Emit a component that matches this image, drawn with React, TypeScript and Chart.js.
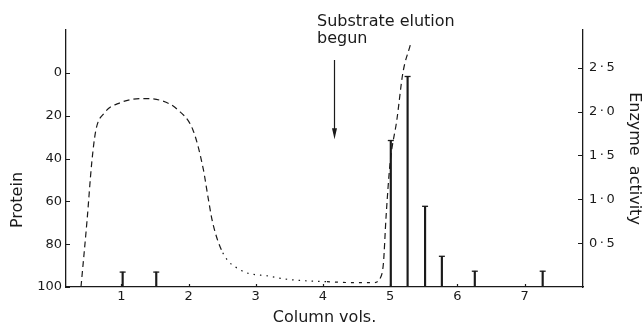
import React, { useEffect, useRef } from 'react';
import { Chart, registerables } from 'chart.js';

Chart.register(...registerables);

// Protein elution profile (left axis, reversed)
const proteinX = [0.40, 0.49, 0.56, 0.62, 0.74, 0.98, 1.32, 1.60, 1.83, 2.07, 2.22, 2.29, 2.36, 2.51, 2.77, 3.21, 3.50, 4.06, 4.50, 4.75, 4.85, 4.90, 4.94, 5.00, 5.10, 5.19, 5.30];
const proteinY = [100, 69, 42, 27, 19, 14, 12, 13, 17, 27, 45, 58, 70, 84, 92, 95, 96.5, 97.5, 98, 98, 96, 89, 67, 42, 22, 0, -13];

// Enzyme activity (right axis)
const enzymeX = [1.02, 1.52, 5.01, 5.26, 5.52, 5.77, 6.26, 7.27];
const enzymeY = [0.17, 0.17, 1.67, 2.40, 0.92, 0.35, 0.18, 0.18];

// Axis ticks
const columnTicks = [1, 2, 3, 4, 5, 6, 7];
const proteinTicks = [0, 20, 40, 60, 80, 100];
const activityTicks = [0.5, 1.0, 1.5, 2.0, 2.5];

// Annotation
const annotationLines = ['Substrate elution', 'begun'];
const arrowX = 4.17;
const arrowFrom = -6;
const arrowTo = 31;

const INK = '#1a1a1a';
const FONT = 'DejaVu Sans';

const decor = {
  id: 'decor',
  afterDraw(chart: any) {
    const { ctx, chartArea, scales } = chart;
    const x = scales.x, y = scales.y, y1 = scales.y1;
    ctx.save();
    ctx.strokeStyle = INK;
    ctx.fillStyle = INK;
    ctx.lineWidth = 1.2;
    ctx.beginPath();
    proteinTicks.forEach((v) => {
      const py = Math.round(y.getPixelForValue(v)) + 0.5;
      ctx.moveTo(chartArea.left, py);
      ctx.lineTo(chartArea.left + 4, py);
    });
    activityTicks.forEach((v) => {
      const py = Math.round(y1.getPixelForValue(v)) + 0.5;
      ctx.moveTo(chartArea.right - 5, py);
      ctx.lineTo(chartArea.right, py);
    });
    columnTicks.forEach((v) => {
      const px = Math.round(x.getPixelForValue(v)) + 0.5;
      ctx.moveTo(px, chartArea.bottom);
      ctx.lineTo(px, chartArea.bottom - 3);
    });
    ctx.stroke();

    // arrow
    const ax = Math.round(x.getPixelForValue(arrowX)) + 0.5;
    const a0 = y.getPixelForValue(arrowFrom);
    const a1 = y.getPixelForValue(arrowTo);
    ctx.beginPath();
    ctx.moveTo(ax, a0);
    ctx.lineTo(ax, a1 - 8);
    ctx.stroke();
    ctx.beginPath();
    ctx.moveTo(ax - 2.5, a1 - 11);
    ctx.lineTo(ax + 2.5, a1 - 11);
    ctx.lineTo(ax, a1);
    ctx.closePath();
    ctx.fill();

    // annotation text
    ctx.font = `16px "${FONT}"`;
    ctx.textAlign = 'left';
    ctx.textBaseline = 'alphabetic';
    ctx.fillText(annotationLines[0], 317, 26);
    ctx.fillText(annotationLines[1], 317, 43);

    // left axis title
    ctx.save();
    ctx.translate(18, 200);
    ctx.rotate(-Math.PI / 2);
    ctx.textAlign = 'center';
    ctx.textBaseline = 'middle';
    ctx.fillText('Protein', 0, 0);
    ctx.restore();

    ctx.restore();
  },
};

export default function App() {
  const ref = useRef<HTMLCanvasElement | null>(null);

  useEffect(() => {
    if (!ref.current) return;
    const tickFont = { family: FONT, size: 13 };
    const border = { display: true, color: INK, width: 1.3 };
    const chart = new Chart(ref.current, {
      type: 'bar',
      data: {
        datasets: [
          {
            type: 'line',
            label: 'Protein',
            data: proteinX.map((v, i) => ({ x: v, y: proteinY[i] })),
            yAxisID: 'y',
            xAxisID: 'x',
            borderColor: INK,
            borderWidth: 1.2,
            pointRadius: 0,
            fill: false,
            cubicInterpolationMode: 'monotone',
            segment: {
              borderDash: (c: any) => {
                const px = c.p0.parsed.x;
                if (px >= 2.4 && px < 3.6) return [1.5, 5];
                if (px >= 3.6 && px < 4.8) return [3, 5];
                return [6, 4];
              },
            },
          } as any,
          {
            type: 'bar',
            label: 'Enzyme activity',
            data: enzymeX.map((v, i) => ({ x: v, y: enzymeY[i] })),
            yAxisID: 'y1',
            xAxisID: 'x',
            backgroundColor: INK,
            barThickness: 1.5,
          } as any,
          {
            type: 'scatter',
            label: 'caps',
            data: enzymeX.map((v, i) => ({ x: v, y: enzymeY[i] })),
            yAxisID: 'y1',
            xAxisID: 'x',
            pointStyle: 'line',
            pointRadius: 3,
            borderColor: INK,
            borderWidth: 1.3,
            showLine: false,
          } as any,
        ],
      },
      options: {
        responsive: false,
        animation: false,
        layout: { padding: { top: 30, left: 0, right: 0, bottom: 0 } },
        plugins: { legend: { display: false }, tooltip: { enabled: false } },
        scales: {
          x: {
            type: 'linear',
            position: 'bottom',
            min: 0.177,
            max: 7.87,
            offset: false,
            grid: { display: false, drawTicks: false },
            border,
            ticks: { font: tickFont, color: INK, padding: 2, maxRotation: 0, autoSkip: false, callback: (v: any) => String(v) },
            title: { display: true, text: 'Column vols.', color: INK, font: { family: FONT, size: 16 }, padding: { top: 0, bottom: 0 } },
            afterBuildTicks: (s: any) => { s.ticks = columnTicks.map((v) => ({ value: v })); },
            afterFit: (s: any) => { s.height = 40; },
          },
          y: {
            type: 'linear',
            position: 'left',
            reverse: true,
            min: -20,
            max: 100,
            grid: { display: false, drawTicks: false },
            border,
            ticks: { font: tickFont, color: INK, padding: 4, callback: (v: any) => String(v) },
            afterBuildTicks: (s: any) => { s.ticks = proteinTicks.map((v) => ({ value: v })); },
            afterFit: (s: any) => { s.width = 66; },
          },
          y1: {
            type: 'linear',
            position: 'right',
            min: 0,
            max: 2.93,
            grid: { display: false, drawTicks: false },
            border,
            ticks: {
              font: tickFont,
              color: INK,
              padding: 6,
              callback: (v: any) => Number(v).toFixed(1).replace('.', '\u2009·\u2009'),
            },
            title: { display: true, text: 'Enzyme  activity', color: INK, font: { family: FONT, size: 16, lineHeight: 1 }, padding: { top: 0, bottom: 0 } },
            afterBuildTicks: (s: any) => { s.ticks = activityTicks.map((v) => ({ value: v })); },
            afterFit: (s: any) => { s.width = 59; },
          },
        },
      } as any,
      plugins: [decor],
    });
    return () => chart.destroy();
  }, []);

  return (
    <div style={{ position: 'fixed', left: 0, top: 0, width: 642, height: 327, background: '#fff' }}>
      <canvas ref={ref} width={642} height={327} style={{ display: 'block' }} />
    </div>
  );
}
